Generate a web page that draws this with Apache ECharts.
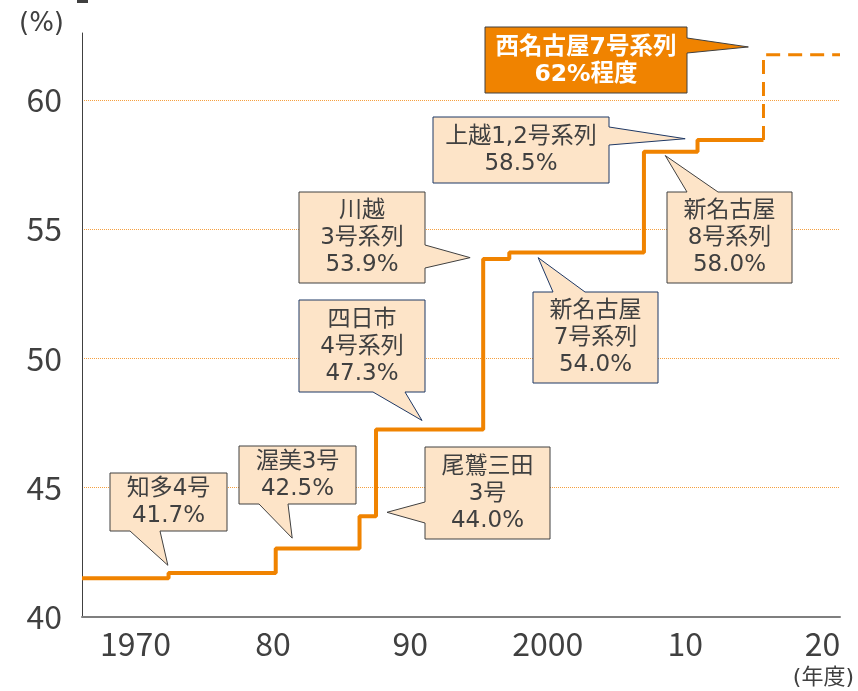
<!DOCTYPE html>
<html>
<head>
<meta charset="utf-8">
<script src="https://cdn.jsdelivr.net/npm/echarts@6/dist/echarts.min.js"></script>
<style>
  html, body { margin: 0; padding: 0; background: #fff; }
  #chart { width: 858px; height: 691px; }
</style>
</head>
<body>
<div id="chart"></div>
<script>
// step line: [fiscal year, efficiency %]
const stepYears = [1966.1, 1972.4, 1980.2, 1986.3, 1987.5, 1995.3, 1997.2, 2007.0, 2010.9, 2015.7];
const stepValues = [41.5, 41.7, 42.65, 43.9, 47.25, 53.85, 54.1, 58.0, 58.45, 58.45];
// planned (dashed)
const planYears = [2015.7, 2015.7, 2021.27];
const planValues = [58.45, 61.75, 61.75];

const xTicks = [1970, 1980, 1990, 2000, 2010, 2020];
const xTickLabels = ["1970", "80", "90", "2000", "10", "20"];
const yTicks = [40, 45, 50, 55, 60];

// callouts: text and where the pointer tip sits (data coords)
const annoText = [
  "知多4号\n41.7%",
  "渥美3号\n42.5%",
  "尾鷲三田\n3号\n44.0%",
  "四日市\n4号系列\n47.3%",
  "川越\n3号系列\n53.9%",
  "新名古屋\n7号系列\n54.0%",
  "上越1,2号系列\n58.5%",
  "新名古屋\n8号系列\n58.0%",
  "西名古屋7号系列\n62%程度"
];
const annoTipYear = [1972.35, 1981.4, 1988.3, 1990.85, 1994.35, 1999.3, 2010.0, 2008.55, 2014.6];
const annoTipValue = [42.0, 43.05, 44.05, 47.6, 53.9, 53.9, 58.5, 57.85, 62.05];

// box layout in pixels: x, y, w, h, pointer side, base start, base end
const annoBox = [
  [110, 473, 117, 58, "bottom", 130, 160],
  [239, 446, 117, 58, "bottom", 259, 288],
  [425, 447, 125, 92, "left", 502, 523],
  [299, 300, 126, 92, "bottom", 373, 405],
  [299, 192, 126, 91, "right", 245, 268],
  [533, 292, 125, 91, "top", 553, 585],
  [433, 117, 176, 66, "right", 127, 145],
  [667, 192, 125, 91, "top", 687, 718],
  [485, 27, 202, 66, "right", 38, 53]
];
const annoBorder = ["#404040", "#404040", "#404040", "#1f3864", "#404040", "#1f3864", "#1f3864", "#404040", "#404040"];

const ORANGE = "#f08300";
const FONT = "'Noto Sans CJK JP', 'Noto Sans', sans-serif";
const WIDE = "'DejaVu Sans', 'Noto Sans CJK JP', sans-serif";

function calloutPoints(b, tip) {
  const [x, y, w, h, side, b1, b2] = b;
  if (side === "bottom") {
    return [[x, y], [x + w, y], [x + w, y + h], [b2, y + h], tip, [b1, y + h], [x, y + h]];
  } else if (side === "right") {
    return [[x, y], [x + w, y], [x + w, b1], tip, [x + w, b2], [x + w, y + h], [x, y + h]];
  } else if (side === "left") {
    return [[x, y], [x + w, y], [x + w, y + h], [x, y + h], [x, b2], tip, [x, b1]];
  }
  return [[x, y], [b1, y], tip, [b2, y], [x + w, y], [x + w, y + h], [x, y + h]];
}

const chart = echarts.init(document.getElementById("chart"));

chart.setOption({
  animation: false,
  grid: { left: 82, right: 18, top: 33, bottom: 74 },
  xAxis: {
    type: "value",
    min: 1966.1,
    max: 2021.27,
    axisLine: { show: true, lineStyle: { color: "#7f7f7f", width: 2 } },
    axisTick: { show: false },
    splitLine: { show: false },
    axisLabel: {
      customValues: xTicks,
      formatter: (v) => xTickLabels[xTicks.indexOf(Math.round(v))] || "",
      color: "#404040",
      fontSize: 32,
      fontFamily: FONT,
      margin: 11
    }
  },
  yAxis: {
    type: "value",
    min: 40,
    max: 62.59,
    axisLine: { show: true, lineStyle: { color: "#404040", width: 1 } },
    axisTick: { show: false, customValues: yTicks },
    axisLabel: {
      customValues: yTicks,
      color: "#404040",
      fontSize: 32,
      fontFamily: FONT,
      margin: 20
    },
    splitLine: { show: true, lineStyle: { color: "#f5a040", type: "dotted", width: 1 } }
  },
  series: [
    {
      type: "line",
      step: "end",
      data: stepYears.map((y, i) => [y, stepValues[i]]),
      symbol: "none",
      lineStyle: { color: ORANGE, width: 4 },
      z: 3
    },
    {
      type: "line",
      data: planYears.map((y, i) => [y, planValues[i]]),
      symbol: "none",
      lineStyle: { color: ORANGE, width: 3, type: [14, 8] },
      z: 3
    },
    {
      type: "custom",
      coordinateSystem: "cartesian2d",
      clip: false,
      silent: true,
      z: 5,
      data: annoTipYear.map((y, i) => [y, annoTipValue[i], i]),
      renderItem: (params, api) => {
        const i = api.value(2);
        const tip = api.coord([api.value(0), api.value(1)]);
        const b = annoBox[i];
        const isPlan = i === annoBox.length - 1;
        return {
          type: "group",
          children: [
            {
              type: "polygon",
              shape: { points: calloutPoints(b, tip) },
              style: {
                fill: isPlan ? ORANGE : "#fde4c8",
                stroke: annoBorder[i],
                lineWidth: 1
              }
            },
            {
              type: "text",
              x: b[0] + b[2] / 2,
              y: b[1] + b[3] / 2 + 1,
              style: {
                text: annoText[i],
                align: "center",
                verticalAlign: "middle",
                fill: isPlan ? "#ffffff" : "#404040",
                fontSize: isPlan ? 23.5 : 23,
                fontWeight: isPlan ? "bold" : "normal",
                lineHeight: 27,
                fontFamily: WIDE
              }
            }
          ]
        };
      }
    }
  ],
  graphic: [
    {
      type: "text",
      left: 19,
      top: 11,
      style: { text: "(%)", fill: "#404040", fontSize: 26, fontFamily: WIDE }
    },
    {
      type: "text",
      right: 4,
      top: 667,
      style: { text: "(年度)", fill: "#404040", fontSize: 22, fontFamily: WIDE }
    },
    {
      type: "rect",
      shape: { x: 77, y: 0, width: 11, height: 3 },
      style: { fill: "#404040" }
    }
  ]
});
</script>
</body>
</html>
